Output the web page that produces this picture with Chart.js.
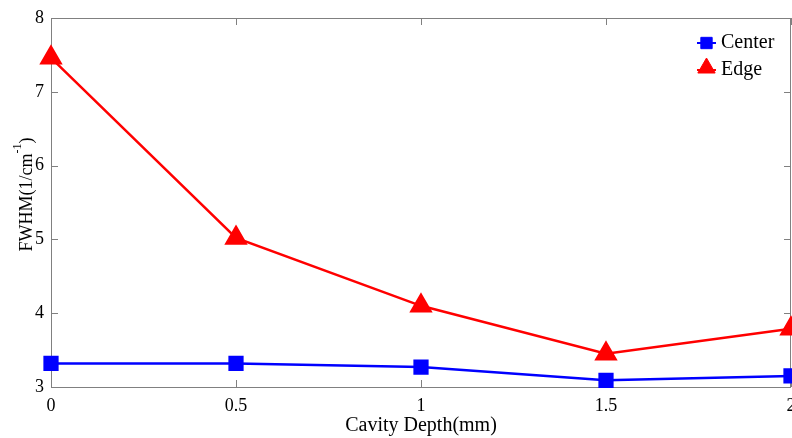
<!DOCTYPE html>
<html>
<head>
<meta charset="utf-8">
<script src="https://cdn.jsdelivr.net/npm/chart.js@4"></script>
<style>
  html, body { margin: 0; padding: 0; background: #fff; }
  #wrap { width: 792px; height: 438px; }
</style>
</head>
<body>
<div id="wrap"><canvas id="fwhmChart" width="792" height="438"></canvas></div>
<script>
// Data
const depths = [0, 0.5, 1, 1.5, 2];
const centerValues = [3.32, 3.32, 3.27, 3.09, 3.15];
const edgeValues = [7.46, 5.02, 4.10, 3.45, 3.79];
const xTicks = [0, 0.5, 1, 1.5, 2];
const yTicks = [3, 4, 5, 6, 7, 8];

const FONT = "'Liberation Serif', 'Times New Roman', serif";
const AXIS_GREY = '#808080';

/**
 * Draws the MATLAB-style box: inward ticks on all four sides,
 * top and right border lines, the y-axis title with superscript and the legend.
 */
const matlabBox = {
    id: 'matlabBox',
    beforeDatasetsDraw(chart) {
        const { ctx, chartArea: a, scales } = chart;
        const len = 7;
        ctx.save();
        ctx.strokeStyle = AXIS_GREY;
        ctx.lineWidth = 1;
        ctx.beginPath();
        // box
        ctx.rect(a.left + 0.5, a.top + 0.5, a.right - a.left - 1, a.bottom - a.top);
        // x ticks
        xTicks.forEach(v => {
            const px = Math.round(scales.x.getPixelForValue(v)) + 0.5;
            ctx.moveTo(px, a.bottom);
            ctx.lineTo(px, a.bottom - len);
            ctx.moveTo(px, a.top);
            ctx.lineTo(px, a.top + len);
        });
        // y ticks
        yTicks.forEach(v => {
            const py = Math.round(scales.y.getPixelForValue(v)) + 0.5;
            ctx.moveTo(a.left, py);
            ctx.lineTo(a.left + len, py);
            ctx.moveTo(a.right, py);
            ctx.lineTo(a.right - len, py);
        });
        ctx.stroke();
        ctx.restore();
    },
    afterDraw(chart) {
        const { ctx, chartArea: a } = chart;
        ctx.save();

        // y-axis title: FWHM(1/cm^-1)
        const main = '18px ' + FONT;
        const sup = '12px ' + FONT;
        ctx.font = main;
        const w1 = ctx.measureText('FWHM(1/cm').width;
        const w3 = ctx.measureText(')').width;
        ctx.font = sup;
        const w2 = ctx.measureText('-1').width;
        const total = w1 + w2 + w3;
        ctx.translate(32, (a.top + a.bottom) / 2 - 8);
        ctx.rotate(-Math.PI / 2);
        ctx.fillStyle = '#000';
        ctx.textBaseline = 'alphabetic';
        ctx.textAlign = 'left';
        let x = -total / 2;
        ctx.font = main;
        ctx.fillText('FWHM(1/cm', x, 0);
        x += w1;
        ctx.font = sup;
        ctx.fillText('-1', x, -11);
        x += w2;
        ctx.font = main;
        ctx.fillText(')', x, 0);
        ctx.restore();

        // legend
        ctx.save();
        const items = chart.data.datasets;
        items.forEach((ds, i) => {
            const cy = 43 + i * 27;
            ctx.strokeStyle = ds.borderColor;
            ctx.lineWidth = 2;
            ctx.beginPath();
            ctx.moveTo(697, cy);
            ctx.lineTo(716, cy);
            ctx.stroke();
            ctx.fillStyle = ds.pointBackgroundColor;
            ctx.strokeStyle = ds.pointBorderColor;
            ctx.lineWidth = 1;
            Chart.helpers.drawPoint(ctx, {
                pointStyle: ds.pointStyle,
                radius: ds.pointStyle === 'triangle' ? 10 : 8,
                borderWidth: 1
            }, 706.5, ds.pointStyle === 'triangle' ? cy - 2 : cy);
            ctx.fillStyle = '#000';
            ctx.font = '20px ' + FONT;
            ctx.textBaseline = 'middle';
            ctx.textAlign = 'left';
            ctx.fillText(ds.label, 721, cy);
        });
        ctx.restore();
    }
};

const ctx = document.getElementById('fwhmChart').getContext('2d');

new Chart(ctx, {
    type: 'line',
    data: {
        datasets: [
            {
                label: 'Center',
                data: depths.map((d, i) => ({ x: d, y: centerValues[i] })),
                borderColor: '#0000ff',
                backgroundColor: '#0000ff',
                pointBackgroundColor: '#0000ff',
                pointBorderColor: '#0000ff',
                pointStyle: 'rect',
                pointRadius: 9,
                borderWidth: 2.5,
                tension: 0,
                clip: false
            },
            {
                label: 'Edge',
                data: depths.map((d, i) => ({ x: d, y: edgeValues[i] })),
                borderColor: '#ff0000',
                backgroundColor: '#ff0000',
                pointBackgroundColor: '#ff0000',
                pointBorderColor: '#ff0000',
                pointStyle: 'triangle',
                pointRadius: 11,
                borderWidth: 2.5,
                tension: 0,
                clip: false
            }
        ]
    },
    options: {
        responsive: false,
        animation: false,
        layout: {
            autoPadding: false,
            padding: { top: 18, right: 1, left: 0, bottom: 0 }
        },
        plugins: {
            legend: { display: false },
            tooltip: { enabled: false }
        },
        scales: {
            x: {
                type: 'linear',
                min: 0,
                max: 2,
                afterBuildTicks(scale) {
                    scale.ticks = xTicks.map(v => ({ value: v }));
                },
                afterFit(scale) {
                    scale.height = 51;
                    scale.paddingLeft = 0;
                    scale.paddingRight = 0;
                },
                grid: { display: false, drawTicks: false },
                border: { display: false },
                ticks: {
                    color: '#000',
                    padding: 8,
                    maxRotation: 0,
                    font: { family: FONT, size: 18 },
                    callback: v => String(v)
                },
                title: {
                    display: true,
                    text: 'Cavity Depth(mm)',
                    color: '#000',
                    font: { family: FONT, size: 20 },
                    padding: { top: 0, bottom: 0 }
                }
            },
            y: {
                type: 'linear',
                min: 3,
                max: 8,
                afterBuildTicks(scale) {
                    scale.ticks = yTicks.map(v => ({ value: v }));
                },
                afterFit(scale) {
                    scale.width = 51;
                    scale.paddingTop = 0;
                    scale.paddingBottom = 0;
                },
                grid: { display: false, drawTicks: false },
                border: { display: false },
                ticks: {
                    color: '#000',
                    padding: 7,
                    font: { family: FONT, size: 18 }
                }
            }
        }
    },
    plugins: [matlabBox]
});
</script>
</body>
</html>
